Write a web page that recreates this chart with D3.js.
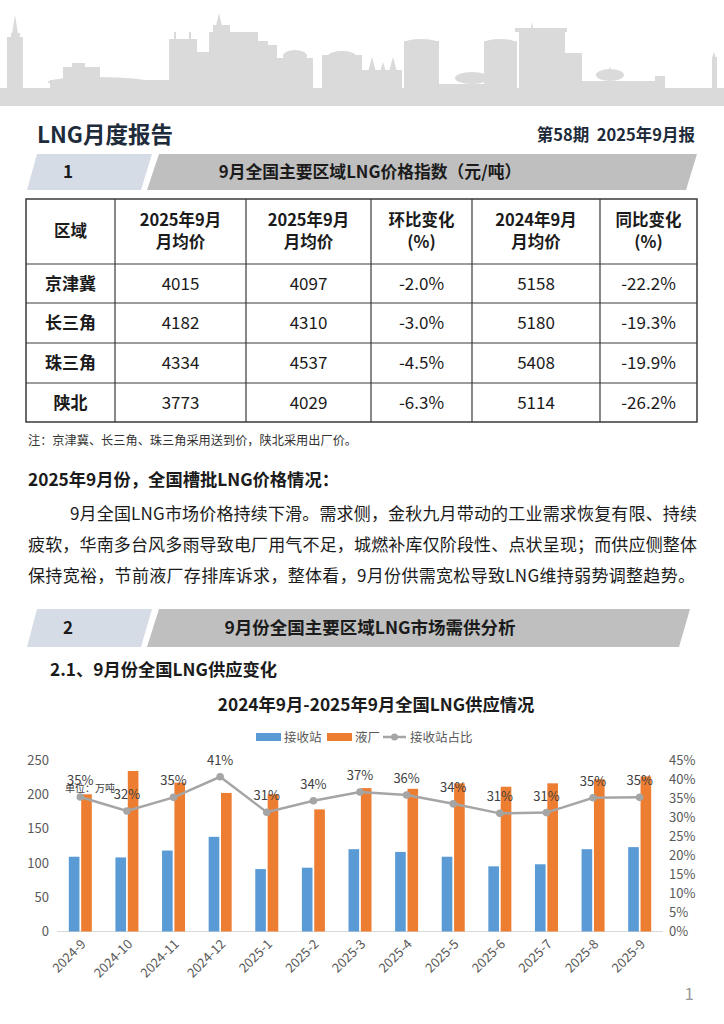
<!DOCTYPE html>
<html>
<head>
<meta charset="utf-8">
<script src="https://cdn.jsdelivr.net/npm/d3@7"></script>
<style>
body { margin: 0; background: #fff; }
svg { display: block; font-family: "Noto Sans CJK SC", "Noto Sans", sans-serif; }
text { white-space: pre; }
</style>
</head>
<body>
<svg id="page" width="724" height="1024"></svg>
<script>
// table data
const tableHeads = [['区域'], ['2025年9月', '月均价'], ['2025年9月', '月均价'], ['环比变化', '(%)'], ['2024年9月', '月均价'], ['同比变化', '(%)']];
const regions = ['京津冀', '长三角', '珠三角', '陕北'];
const priceSep25 = [4015, 4182, 4334, 3773];
const priceAug25 = [4097, 4310, 4537, 4029];
const momChange = ['-2.0%', '-3.0%', '-4.5%', '-6.3%'];
const priceSep24 = [5158, 5180, 5408, 5114];
const yoyChange = ['-22.2%', '-19.3%', '-19.9%', '-26.2%'];

// chart data
const months = ['2024-9', '2024-10', '2024-11', '2024-12', '2025-1', '2025-2', '2025-3', '2025-4', '2025-5', '2025-6', '2025-7', '2025-8', '2025-9'];
const terminal = [109, 108, 118, 138, 91, 93, 120, 116, 109, 95, 98, 120, 123];
const plant = [200, 234, 217, 202, 200, 178, 209, 208, 216, 211, 216, 222, 226];
const share = [35.3, 31.6, 35.2, 40.6, 31.3, 34.3, 36.6, 35.8, 33.5, 31.0, 31.2, 35.1, 35.2];
const leftTicks = [0, 50, 100, 150, 200, 250];
const rightTicks = [0, 5, 10, 15, 20, 25, 30, 35, 40, 45];

const paragraph = [
    '9月全国LNG市场价格持续下滑。需求侧，金秋九月带动的工业需求恢复有限、持续',
    '疲软，华南多台风多雨导致电厂用气不足，城燃补库仅阶段性、点状呈现；而供应侧整体',
    '保持宽裕，节前液厂存排库诉求，整体看，9月份供需宽松导致LNG维持弱势调整趋势。'
];

const svg = d3.select('#page');
const dark = '#1b1b1b';

// skyline header
const sky = svg.append('g').attr('fill', '#dadada');
const blocks = [
    [0, 724, 88], [7, 23, 37], [11, 20, 33], [63, 100, 67], [72, 85, 63], [50, 170, 80],
    [169, 197, 39], [197, 210, 52], [209, 258, 32], [213, 230, 25], [258, 268, 41], [258, 277, 45],
    [277, 313, 58], [322, 362, 55], [362, 402, 70], [404, 439, 41], [439, 484, 84],
    [484, 517, 41], [519, 565, 29], [565, 582, 53], [582, 665, 81], [655, 665, 76], [712, 717, 57]
];
blocks.forEach(b => sky.append('rect').attr('x', b[0]).attr('y', b[2]).attr('width', b[1] - b[0]).attr('height', 106 - b[2]));
// domes and roofs
[[295, 56, 12, 6], [342, 56, 14, 5], [421, 43, 17, 4], [500, 43, 16, 4], [472, 78, 17, 6], [610, 75, 14, 6], [98, 82, 50, 5], [240, 79, 70, 5]]
    .forEach(d => sky.append('ellipse').attr('cx', d[0]).attr('cy', d[1]).attr('rx', d[2]).attr('ry', d[3]));
// spires
[[15, 15, 3, 34], [219, 13, 3, 26], [372, 57, 4, 72], [393, 57, 4, 72], [383, 62, 3, 72], [532, 22, 1.5, 30], [610, 66, 1.5, 72], [714, 52, 2, 58]]
    .forEach(s => sky.append('path').attr('d', `M${s[0]},${s[1]}L${s[0] + s[2]},${s[3]}L${s[0] - s[2]},${s[3]}Z`));
sky.append('rect').attr('x', 515).attr('y', 28).attr('width', 52).attr('height', 4);
sky.append('rect').attr('x', 174).attr('y', 32).attr('width', 2).attr('height', 8);
sky.append('rect').attr('x', 189).attr('y', 32).attr('width', 2).attr('height', 8);

// titles
svg.append('text').attr('x', 37).attr('y', 143).attr('font-size', 22.5).attr('font-weight', 'bold').attr('fill', '#1e2b3a').text('LNG月度报告');
svg.append('text').attr('x', 695).attr('y', 141).attr('text-anchor', 'end').attr('font-size', 16.5).attr('font-weight', 'bold').attr('fill', '#1e2b3a').text('第58期  2025年9月报');

function sectionBar(y0, y1, num, title, right, size) {
    svg.append('path').attr('d', `M37,${y0}L152,${y0}L141,${y1}L27,${y1}Z`).attr('fill', '#d6dce5');
    svg.append('path').attr('d', `M159,${y0}L${right},${y0}L${right - 11},${y1}L147,${y1}Z`).attr('fill', '#bfbfbf');
    const cy = (y0 + y1) / 2;
    svg.append('text').attr('x', 68).attr('y', cy).attr('dy', '0.36em').attr('text-anchor', 'middle')
        .attr('font-size', 17).attr('font-weight', 'bold').attr('fill', dark).text(num);
    svg.append('text').attr('x', 370).attr('y', cy).attr('dy', '0.36em').attr('text-anchor', 'middle')
        .attr('font-size', size).attr('font-weight', 'bold').attr('fill', dark).text(title);
}
sectionBar(154, 190, '1', '9月全国主要区域LNG价格指数（元/吨）', 697, 16.8);

// table
const colX = [26, 115, 246, 371, 472, 600, 697];
const rowY = [199, 264, 303, 343, 383, 422];
const table = svg.append('g');
table.append('rect').attr('x', colX[0]).attr('y', rowY[0]).attr('width', colX[6] - colX[0]).attr('height', rowY[5] - rowY[0])
    .attr('fill', 'none').attr('stroke', '#3a3a3a').attr('stroke-width', 1.5);
colX.slice(1, 6).forEach(x => table.append('line').attr('x1', x).attr('x2', x).attr('y1', rowY[0]).attr('y2', rowY[5]).attr('stroke', '#3a3a3a').attr('stroke-width', 1.2));
rowY.slice(1, 5).forEach(y => table.append('line').attr('x1', colX[0]).attr('x2', colX[6]).attr('y1', y).attr('y2', y).attr('stroke', '#3a3a3a').attr('stroke-width', 1.2));
const colMid = i => (colX[i] + colX[i + 1]) / 2;
tableHeads.forEach((h, i) => {
    const cy = (rowY[0] + rowY[1]) / 2;
    h.forEach((line, j) => {
        table.append('text').attr('x', colMid(i)).attr('y', h.length === 1 ? cy : cy + (j - 0.5) * 22)
            .attr('dy', '0.36em').attr('text-anchor', 'middle').attr('font-size', 16.5).attr('font-weight', 'bold').attr('fill', dark).text(line);
    });
});
const rows = regions.map((r, i) => [r, priceSep25[i], priceAug25[i], momChange[i], priceSep24[i], yoyChange[i]]);
rows.forEach((row, r) => {
    const cy = (rowY[r + 1] + rowY[r + 2]) / 2;
    row.forEach((v, i) => {
        table.append('text').attr('x', colMid(i)).attr('y', cy).attr('dy', '0.36em').attr('text-anchor', 'middle')
            .attr('font-size', 17).attr('font-weight', i === 0 ? 'bold' : 'normal').attr('fill', dark).text(v);
    });
});
svg.append('text').attr('x', 28).attr('y', 445).attr('font-size', 12.2).attr('fill', '#333').text('注：京津冀、长三角、珠三角采用送到价，陕北采用出厂价。');

// text block
svg.append('text').attr('x', 28).attr('y', 486).attr('font-size', 17.3).attr('font-weight', 'bold').attr('fill', dark).text('2025年9月份，全国槽批LNG价格情况：');
const paraX = [[70, 697], [28, 697], [28, 695]];
paragraph.forEach((line, i) => {
    svg.append('text').attr('x', paraX[i][0]).attr('y', 520 + i * 31).attr('font-size', 17).attr('fill', dark)
        .attr('textLength', paraX[i][1] - paraX[i][0]).attr('lengthAdjust', 'spacing').text(line);
});

sectionBar(609, 647, '2', '9月份全国主要区域LNG市场需供分析', 690, 17.5);
svg.append('text').attr('x', 50).attr('y', 676).attr('font-size', 17.3).attr('font-weight', 'bold').attr('fill', dark).text('2.1、9月份全国LNG供应变化');

// chart
svg.append('text').attr('x', 376).attr('y', 711).attr('text-anchor', 'middle').attr('font-size', 17.3).attr('font-weight', 'bold').attr('fill', dark)
    .text('2024年9月-2025年9月全国LNG供应情况');

const blue = '#5b9bd5', orange = '#ed7d31', grey = '#a5a5a5', tickColor = '#595959';
const x = d3.scaleBand().domain(months).range([57, 663]);
const sub = d3.scaleBand().domain(['terminal', 'plant']).range([0, 23]).paddingInner(0.14);
const y = d3.scaleLinear().domain([0, 250]).range([931.5, 760]);
const y2 = d3.scaleLinear().domain([0, 45]).range([931.5, 760]);
const off = (x.bandwidth() - 23) / 2;

const chart = svg.append('g');
const leftAxis = chart.append('g').attr('transform', 'translate(52,0)')
    .call(d3.axisLeft(y).tickValues(leftTicks).tickSize(0).tickPadding(3));
const rightAxis = chart.append('g').attr('transform', 'translate(663,0)')
    .call(d3.axisRight(y2).tickValues(rightTicks).tickSize(0).tickPadding(6).tickFormat(d => d + '%'));
[leftAxis, rightAxis].forEach(a => {
    a.select('.domain').remove();
    a.selectAll('text').attr('font-size', 13).attr('fill', tickColor).attr('font-family', '"Noto Sans CJK SC", sans-serif');
});

chart.append('line').attr('x1', 57).attr('x2', 663).attr('y1', y(0)).attr('y2', y(0)).attr('stroke', '#d9d9d9').attr('stroke-width', 1);

chart.selectAll('.bar-t').data(months).enter().append('rect').attr('class', 'bar-t')
    .attr('x', (d, i) => x(d) + off + sub('terminal')).attr('width', sub.bandwidth())
    .attr('y', (d, i) => y(terminal[i])).attr('height', (d, i) => y(0) - y(terminal[i])).attr('fill', blue);
chart.selectAll('.bar-p').data(months).enter().append('rect').attr('class', 'bar-p')
    .attr('x', (d, i) => x(d) + off + sub('plant')).attr('width', sub.bandwidth())
    .attr('y', (d, i) => y(plant[i])).attr('height', (d, i) => y(0) - y(plant[i])).attr('fill', orange);

const cx = d => x(d) + x.bandwidth() / 2;
const line = d3.line().x((d, i) => cx(months[i])).y(d => y2(d));
chart.append('path').datum(share).attr('d', line).attr('fill', 'none').attr('stroke', grey).attr('stroke-width', 2.5);
chart.selectAll('.dot').data(share).enter().append('circle').attr('class', 'dot')
    .attr('cx', (d, i) => cx(months[i])).attr('cy', d => y2(d)).attr('r', 3.8).attr('fill', grey);
chart.selectAll('.lbl').data(share).enter().append('text').attr('class', 'lbl')
    .attr('x', (d, i) => cx(months[i])).attr('y', d => y2(d) - 12).attr('text-anchor', 'middle')
    .attr('font-size', 13).attr('fill', '#404040').text(d => d3.format('.0f')(d) + '%');

chart.append('text').attr('x', 65).attr('y', 792).attr('font-size', 10).attr('fill', '#404040').text('单位：万吨');

chart.selectAll('.xl').data(months).enter().append('text').attr('class', 'xl')
    .attr('transform', d => `translate(${cx(d) + 3},${y(0) + 10}) rotate(-45)`)
    .attr('text-anchor', 'end').attr('dy', '0.36em').attr('font-size', 13).attr('fill', tickColor).text(d => d);

// legend
const legend = chart.append('g').attr('transform', 'translate(256,737)');
legend.append('rect').attr('x', 0).attr('y', -4).attr('width', 25).attr('height', 8).attr('fill', blue);
legend.append('text').attr('x', 28).attr('dy', '0.36em').attr('font-size', 12.5).attr('fill', tickColor).text('接收站');
legend.append('rect').attr('x', 71).attr('y', -4).attr('width', 25).attr('height', 8).attr('fill', orange);
legend.append('text').attr('x', 99).attr('dy', '0.36em').attr('font-size', 12.5).attr('fill', tickColor).text('液厂');
legend.append('line').attr('x1', 127).attr('x2', 150).attr('stroke', grey).attr('stroke-width', 2.5);
legend.append('circle').attr('cx', 138.5).attr('r', 3.5).attr('fill', grey);
legend.append('text').attr('x', 154).attr('dy', '0.36em').attr('font-size', 12.5).attr('fill', tickColor).text('接收站占比');

// page number
svg.append('text').attr('x', 694).attr('y', 1000).attr('text-anchor', 'end').attr('font-size', 17).attr('fill', '#9a9a9a').text('1');
</script>
</body>
</html>
